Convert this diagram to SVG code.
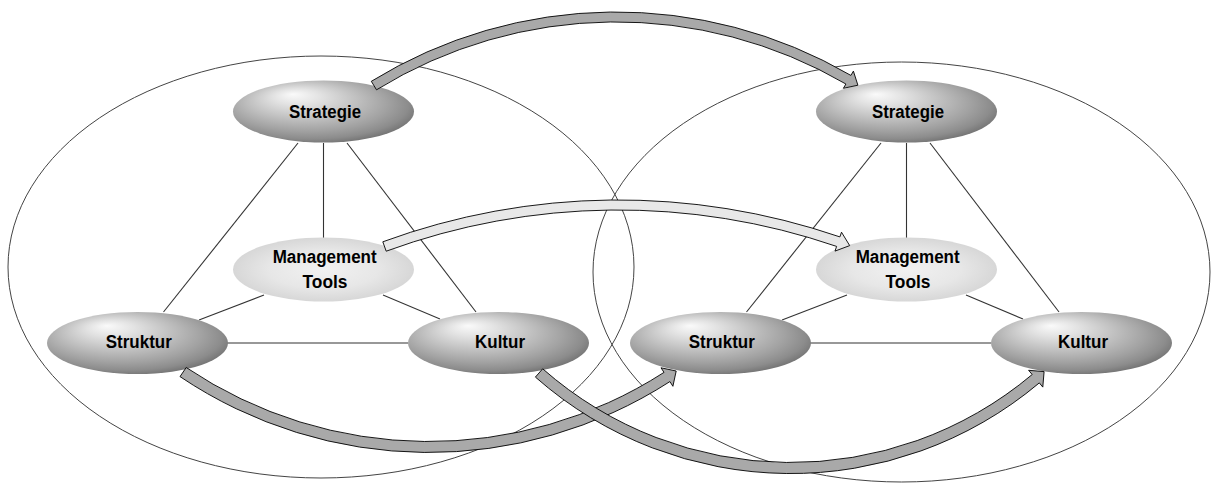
<svg xmlns="http://www.w3.org/2000/svg" width="1218" height="485" viewBox="0 0 1218 485">
<defs>
<radialGradient id="gDark" cx="0.44" cy="0.42" r="0.6" fx="0.33" fy="0.22">
<stop offset="0" stop-color="#fafafa"/>
<stop offset="0.22" stop-color="#e2e2e2"/>
<stop offset="0.5" stop-color="#c0c0c0"/>
<stop offset="0.74" stop-color="#a2a2a2"/>
<stop offset="0.9" stop-color="#8c8c8c"/>
<stop offset="1" stop-color="#757575"/>
</radialGradient>
<radialGradient id="gLight" cx="0.5" cy="0.5" r="0.5">
<stop offset="0" stop-color="#f1f1f1"/>
<stop offset="0.6" stop-color="#e7e7e7"/>
<stop offset="1" stop-color="#d7d7d7"/>
</radialGradient>
<style>
.big{fill:none;stroke:#444;stroke-width:1}
.link{stroke:#333;stroke-width:1.1;fill:none}
.dark{fill:url(#gDark)}
.light{fill:url(#gLight)}
.lbl{font-family:"Liberation Sans",Arial,sans-serif;font-weight:bold;font-size:18px;fill:#000;text-anchor:middle}
.arr{fill:#a9a9a9;stroke:#000;stroke-width:0.9;stroke-linejoin:miter}
.arrL{fill:#e8e8e8;stroke:#000;stroke-width:0.9;stroke-linejoin:miter}
</style>
</defs>
<rect width="1218" height="485" fill="#fff"/>
<g id="frames">
<ellipse class="big" cx="321" cy="267" rx="313" ry="211"/>
<ellipse class="big" cx="901.5" cy="272" rx="308.5" ry="210"/>
</g>
<g id="links">
<line class="link" x1="298" y1="143" x2="163.5" y2="312"/>
<line class="link" x1="323.5" y1="143" x2="323.5" y2="238"/>
<line class="link" x1="347" y1="143" x2="476" y2="312"/>
<line class="link" x1="264" y1="295" x2="199" y2="320"/>
<line class="link" x1="383" y1="295" x2="440" y2="319"/>
<line class="link" x1="227" y1="343" x2="408" y2="343"/>
<line class="link" x1="881" y1="143" x2="746.5" y2="312"/>
<line class="link" x1="906.5" y1="143" x2="906.5" y2="238"/>
<line class="link" x1="930" y1="143" x2="1059" y2="312"/>
<line class="link" x1="847" y1="295" x2="782" y2="320"/>
<line class="link" x1="966" y1="295" x2="1023" y2="319"/>
<line class="link" x1="810" y1="343" x2="991" y2="343"/>
</g>
<g id="strategie-left">
<ellipse class="dark" cx="323.5" cy="111.5" rx="90.5" ry="31"/>
<text class="lbl" x="325" y="117.5" textLength="72" lengthAdjust="spacingAndGlyphs">Strategie</text>
</g>
<g id="tools-left">
<ellipse class="light" cx="323.5" cy="269.5" rx="90.5" ry="32"/>
<text class="lbl" x="324.7" y="262.5" textLength="104" lengthAdjust="spacingAndGlyphs">Management</text>
<text class="lbl" x="325" y="287.5" textLength="45" lengthAdjust="spacingAndGlyphs">Tools</text>
</g>
<g id="struktur-left">
<ellipse class="dark" cx="137.5" cy="343" rx="90.5" ry="31"/>
<text class="lbl" x="138.8" y="348" textLength="66" lengthAdjust="spacingAndGlyphs">Struktur</text>
</g>
<g id="kultur-left">
<ellipse class="dark" cx="498.5" cy="343" rx="90.5" ry="31"/>
<text class="lbl" x="500" y="348" textLength="50" lengthAdjust="spacingAndGlyphs">Kultur</text>
</g>
<g id="strategie-right">
<ellipse class="dark" cx="906.5" cy="111.5" rx="90.5" ry="31"/>
<text class="lbl" x="908" y="117.5" textLength="72" lengthAdjust="spacingAndGlyphs">Strategie</text>
</g>
<g id="tools-right">
<ellipse class="light" cx="906.5" cy="269.5" rx="90.5" ry="32"/>
<text class="lbl" x="907.7" y="262.5" textLength="104" lengthAdjust="spacingAndGlyphs">Management</text>
<text class="lbl" x="908" y="287.5" textLength="45" lengthAdjust="spacingAndGlyphs">Tools</text>
</g>
<g id="struktur-right">
<ellipse class="dark" cx="720.5" cy="343" rx="90.5" ry="31"/>
<text class="lbl" x="721.8" y="348" textLength="66" lengthAdjust="spacingAndGlyphs">Struktur</text>
</g>
<g id="kultur-right">
<ellipse class="dark" cx="1081.5" cy="343" rx="90.5" ry="31"/>
<text class="lbl" x="1083" y="348" textLength="50" lengthAdjust="spacingAndGlyphs">Kultur</text>
</g>
<g id="arrows">
<path class="arr" d="M 371.3 81.3 A 466.7 466.7 0 0 1 850.9 75.4 L 853.4 71.1 L 857.9 85.2 L 843.4 88.3 L 845.9 84.0 A 456.7 456.7 0 0 0 376.5 89.8 Z"/>
<path class="arrL" d="M 382.8 241.8 A 683.6 683.6 0 0 1 839.9 236.9 L 841.5 232.2 L 849.7 245.6 L 835.0 251.1 L 836.6 246.4 A 673.6 673.6 0 0 0 386.2 251.2 Z"/>
<path class="arr" d="M 180.0 376.6 A 445.7 445.7 0 0 0 669.9 381.6 L 672.9 386.3 L 676.2 371.0 L 661.0 367.8 L 664.0 372.4 A 434.7 434.7 0 0 1 186.2 367.5 Z"/>
<path class="arr" d="M 535.4 377.1 A 386.2 386.2 0 0 0 1039.3 382.9 L 1042.8 387.1 L 1044.1 371.6 L 1028.6 370.3 L 1032.2 374.5 A 375.2 375.2 0 0 1 542.7 368.8 Z"/>
</g>
</svg>
